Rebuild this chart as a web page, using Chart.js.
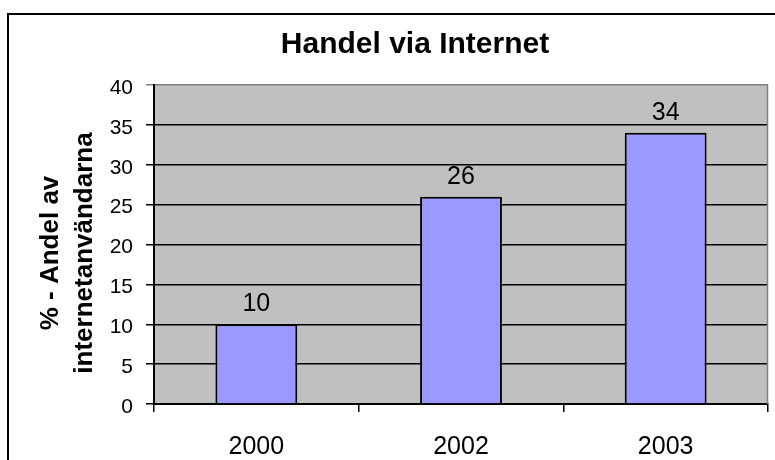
<!DOCTYPE html>
<html>
<head>
<meta charset="utf-8">
<script src="https://cdn.jsdelivr.net/npm/chart.js@4"></script>
<style>
  html, body { margin: 0; padding: 0; background: #fff; }
</style>
</head>
<body>
<canvas id="handel" width="775" height="460"></canvas>
<script>
// data
const years = ["2000", "2002", "2003"];
const shares = [10, 26, 34];
const yTicks = [0, 5, 10, 15, 20, 25, 30, 35, 40];
const chartTitle = "Handel via Internet";
const yTitle = ["% - Andel av", "internetanvändarna"];

const FONT = '"Liberation Sans", Arial, sans-serif';

// frame, grey plot area, title and axis title
const excelLook = {
  id: "excelLook",
  beforeDraw(chart) {
    const { ctx, chartArea: a } = chart;
    ctx.save();
    ctx.fillStyle = "#fff";
    ctx.fillRect(0, 0, chart.width, chart.height);
    ctx.strokeStyle = "#000";
    ctx.lineWidth = 2;
    ctx.strokeRect(8, 14, 900, 600);
    ctx.fillStyle = "#c0c0c0";
    ctx.fillRect(a.left, a.top, a.right - a.left, a.bottom - a.top);
    ctx.restore();
  },
  afterDatasetsDraw(chart) {
    const { ctx } = chart;
    const meta = chart.getDatasetMeta(0);
    ctx.save();
    ctx.fillStyle = "#000";
    ctx.font = "25px " + FONT;
    ctx.textAlign = "center";
    ctx.textBaseline = "alphabetic";
    meta.data.forEach((bar, i) => {
      ctx.fillText(String(shares[i]), bar.x, bar.y - 13);
    });
    ctx.restore();
  },
  afterDraw(chart) {
    const { ctx, chartArea: a } = chart;
    ctx.save();
    // right edge of the plot is grey like the top line
    ctx.strokeStyle = "#808080";
    ctx.lineWidth = 1.5;
    ctx.beginPath();
    ctx.moveTo(a.right - 0.5, a.top);
    ctx.lineTo(a.right - 0.5, a.bottom);
    ctx.stroke();

    ctx.fillStyle = "#000";
    ctx.font = "bold 30px " + FONT;
    ctx.textAlign = "center";
    ctx.textBaseline = "alphabetic";
    ctx.fillText(chartTitle, 415, 53);

    ctx.translate(0, 253);
    ctx.rotate(-Math.PI / 2);
    ctx.font = "bold 26px " + FONT;
    ctx.fillText(yTitle[0], 0, 58);
    ctx.fillText(yTitle[1], 0, 92);
    ctx.restore();
  }
};

new Chart(document.getElementById("handel"), {
  type: "bar",
  data: {
    labels: years,
    datasets: [
      {
        data: shares,
        backgroundColor: "#9999ff",
        borderColor: "#000",
        borderWidth: 2,
        barPercentage: 0.4,
        categoryPercentage: 1,
      },
    ],
  },
  options: {
    responsive: false,
    animation: false,
    layout: { padding: { top: 85, right: 7, bottom: 0, left: 0 } },
    plugins: {
      legend: { display: false },
      title: { display: false },
      tooltip: { enabled: false },
    },
    scales: {
      x: {
        afterFit: (s) => { s.height = 56; },
        border: { color: "#000", width: 2 },
        grid: {
          drawOnChartArea: false,
          tickLength: 8,
          color: "#000",
          lineWidth: 1.5,
        },
        ticks: {
          color: "#000",
          padding: 20,
          font: { family: FONT, size: 25 },
        },
      },
      y: {
        min: yTicks[0],
        max: yTicks[yTicks.length - 1],
        afterFit: (s) => { s.width = 154; },
        afterBuildTicks: (s) => { s.ticks = yTicks.map((v) => ({ value: v })); },
        border: { color: "#000", width: 2 },
        grid: {
          tickLength: 8,
          lineWidth: 1.5,
          color: (c) => (c.tick && c.tick.value === 40 ? "#808080" : "#000"),
        },
        ticks: {
          color: "#000",
          padding: 13,
          labelOffset: 3,
          font: { family: FONT, size: 21 },
        },
      },
    },
  },
  plugins: [excelLook],
});
</script>
</body>
</html>
